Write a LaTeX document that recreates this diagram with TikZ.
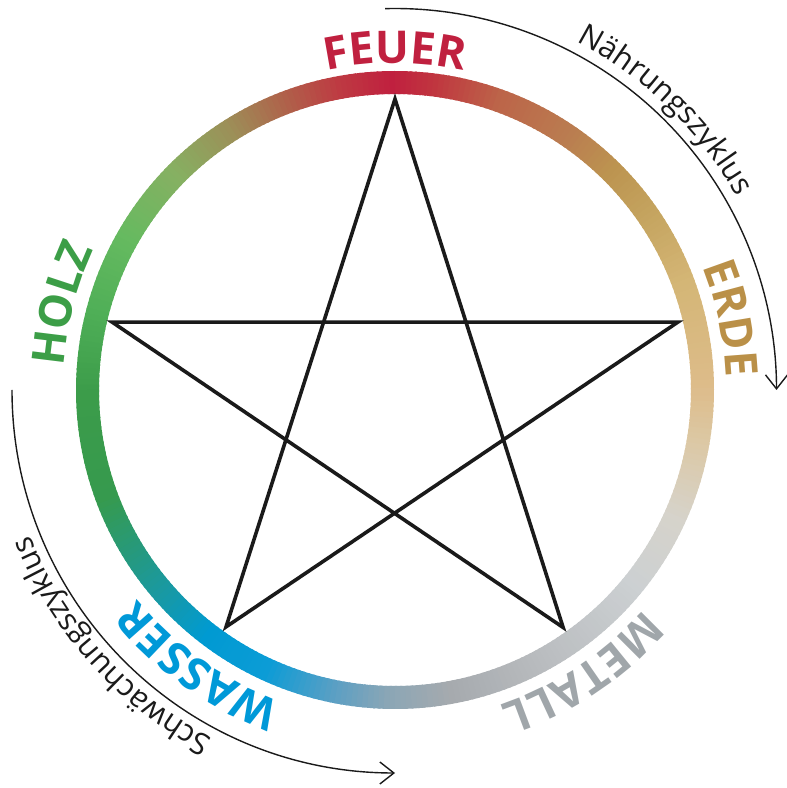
\documentclass[tikz,border=0pt]{standalone}
\usepackage{fontspec}
\newfontfamily\osans{Open Sans}
\usetikzlibrary{decorations.text,arrows.meta}
\definecolor{feuer}{HTML}{C0203F}
\definecolor{erde}{HTML}{BA9048}
\definecolor{holz}{HTML}{3C9E47}
\definecolor{wasser}{HTML}{0099D8}
\definecolor{metall}{HTML}{A0A6AA}
\definecolor{ink}{HTML}{1A1A1A}
\definecolor{r00}{HTML}{DDBC8A}
\definecolor{r20}{HTML}{D4B676}
\definecolor{r35}{HTML}{C4A35E}
\definecolor{r45}{HTML}{BC9450}
\definecolor{r55}{HTML}{BA7D50}
\definecolor{r70}{HTML}{BC6449}
\definecolor{r82}{HTML}{C0363F}
\definecolor{r90}{HTML}{C0203F}
\definecolor{r100}{HTML}{BE3A42}
\definecolor{r110}{HTML}{B0604A}
\definecolor{r122}{HTML}{9C9058}
\definecolor{r135}{HTML}{86B062}
\definecolor{r150}{HTML}{66BA60}
\definecolor{r165}{HTML}{4FAF57}
\definecolor{r180}{HTML}{3C9C4A}
\definecolor{r200}{HTML}{369A4E}
\definecolor{r220}{HTML}{1A99A0}
\definecolor{r232}{HTML}{009AD2}
\definecolor{r245}{HTML}{0C9CD6}
\definecolor{r258}{HTML}{5A9FC4}
\definecolor{r268}{HTML}{8AA6B6}
\definecolor{r280}{HTML}{A6AAAE}
\definecolor{r300}{HTML}{BBBEC1}
\definecolor{r320}{HTML}{CCD0D2}
\definecolor{r335}{HTML}{D6D3CB}
\definecolor{r350}{HTML}{DCC8A4}
\newcommand\lblfmt{\osans\bfseries\fontsize{45}{45}\selectfont}
\newcommand\cycfmt{\osans\fontsize{30.5}{30.5}\selectfont\color{ink}}
\tikzset{
  ringseg/.style={line width=23pt},
  starline/.style={draw=ink, line width=3.6pt, line join=miter},
  cycarrow/.style={draw=ink, line width=1.4pt, -{Straight Barb[length=14pt,width=22pt,line width=1.4pt]}},
}
\begin{document}
\begin{tikzpicture}[x=1pt,y=1pt]
\useasboundingbox (0,0) rectangle (787,788);
\coordinate (C) at (395,398);
% ring
\foreach \a/\ca/\b/\cb in {0/r00/20/r20, 20/r20/35/r35, 35/r35/45/r45, 45/r45/55/r55, 55/r55/70/r70, 70/r70/82/r82, 82/r82/90/r90, 90/r90/100/r100, 100/r100/110/r110, 110/r110/122/r122, 122/r122/135/r135, 135/r135/150/r150, 150/r150/165/r165, 165/r165/180/r180, 180/r180/200/r200, 200/r200/220/r220, 220/r220/232/r232, 232/r232/245/r245, 245/r245/258/r258, 258/r258/268/r268, 268/r268/280/r280, 280/r280/300/r300, 300/r300/320/r320, 320/r320/335/r335, 335/r335/350/r350, 350/r350/360/r00}{
  \pgfmathtruncatemacro\n{\b-\a-1}
  \foreach \i in {0,...,\n}{
    \pgfmathsetmacro\p{100*\i/(\b-\a)}
    \pgfmathsetmacro\s{\a+\i}
    \pgfmathsetmacro\e{\a+\i+1.4}
    \draw[ringseg, draw=\cb!\p!\ca] ([shift={(\s:307.5pt)}]C) arc[start angle=\s, end angle=\e, radius=307.5pt];
  }
}
% star
\foreach \nm/\ang in {sa/90, sb/166.5, sc/234.5, sd/305.3, se/13.5}
  \coordinate (\nm) at ([shift={(\ang:291pt)}]C);
\draw[starline] (sa) -- (sc) -- (se) -- (sb) -- (sd) -- cycle;
% element labels
\path[decorate, decoration={text along path, text align=center, text={|\lblfmt\color{feuer}|FEUER}}]
  ([shift={(120:327pt)}]C) arc[start angle=120, end angle=60, radius=327pt];
\path[decorate, decoration={text along path, text align=center, text={|\lblfmt\color{erde}|ERDE}}]
  ([shift={(42:331pt)}]C) arc[start angle=42, end angle=-18, radius=331pt];
\path[decorate, decoration={text along path, text align=center, text={|\lblfmt\color{holz}|HOLZ}}]
  ([shift={(195.5:332pt)}]C) arc[start angle=195.5, end angle=135.5, radius=332pt];
\path[decorate, decoration={text along path, text align=center, text={|\lblfmt\color{wasser}|WASSER}}]
  ([shift={(264.5:332pt)}]C) arc[start angle=264.5, end angle=204.5, radius=332pt];
\path[decorate, decoration={text along path, text align=center, text={|\lblfmt\color{metall}|METALL}}]
  ([shift={(333.5:332pt)}]C) arc[start angle=333.5, end angle=273.5, radius=332pt];
% cycles
\coordinate (ns) at ([shift={(91.5:381.5pt)}]C);
\draw[cycarrow] (ns) arc[start angle=91.5, end angle=0, radius=381.5pt];
\path[decorate, decoration={text along path, text align=center, text={|\cycfmt|Nährungszyklus}}]
  ([shift={(86:393pt)}]C) arc[start angle=86, end angle=6, radius=393pt];
\coordinate (ss) at ([shift={(180:383pt)}]C);
\draw[cycarrow] (ss) arc[start angle=180, end angle=270, radius=383pt];
\path[decorate, decoration={text along path, text align=center, text={|\cycfmt|Schwächungszyklus}}]
  ([shift={(267:393pt)}]C) arc[start angle=267, end angle=177, radius=393pt];
\end{tikzpicture}
\end{document}
